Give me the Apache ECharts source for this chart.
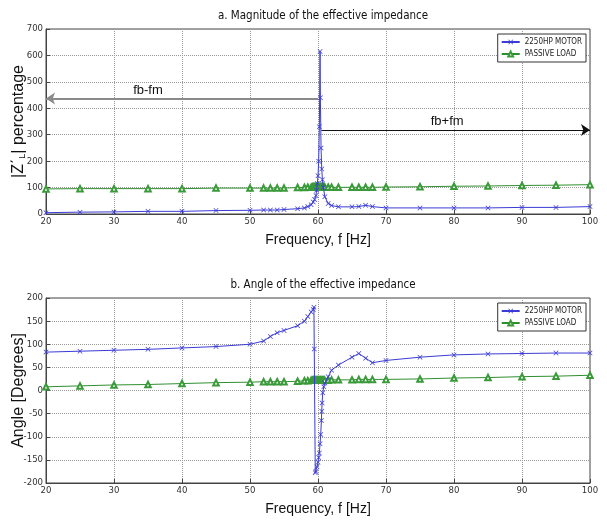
<!DOCTYPE html>
<html><head><meta charset="utf-8">
<script src="https://cdn.jsdelivr.net/npm/echarts@6/dist/echarts.min.js"></script>
<style>html,body{margin:0;padding:0;background:#fff}#c{width:607px;height:520px}</style>
</head><body><div id="c"></div>
<script>
// ---- data ----
const xTicks = [20,30,40,50,60,70,80,90,100];
const magTicks = [0,100,200,300,400,500,600,700];
const angTicks = [-200,-150,-100,-50,0,50,100,150,200];

const motorMagX = [20,25,30,35,40,45,50,52,53,54,55,57,58,58.5,59,59.3,59.5,59.7,59.8,59.9,60,60.1,60.2,60.3,60.35,60.45,60.55,60.65,60.8,61,61.5,62,63,65,66,67,68,70,75,80,85,90,95,100];
const motorMag  = [5,7,8,10,10,13,14,15,15,15,17,20,23,28,35,45,55,70,90,115,145,200,330,615,440,250,170,130,100,65,40,32,27,27,28,33,28,23,23,23,23,25,25,28];

const motorAngX = [20,25,30,35,40,45,50,52,53,54,55,57,58,58.5,59,59.3,59.4,59.45,59.6,59.7,59.85,60,60.1,60.2,60.3,60.4,60.5,60.55,60.6,60.7,60.85,61,61.5,62,63,65,66,67,68,70,75,80,85,90,95,100];
const motorAng  = [83,85,87,89,92,95,100,107,117,125,130,140,150,160,170,175,180,90,-178,-175,-165,-155,-145,-135,-115,-95,-65,-45,-27,-5,8,16,30,44,55,72,80,70,60,65,72,77,79,80,81,81];

const passiveX = [20,25,30,35,40,45,50,52,53,54,55,57,58,58.5,59,59.2,59.3,59.4,59.5,59.6,59.7,59.8,59.9,60,60.1,60.2,60.3,60.4,60.5,60.6,60.7,60.8,60.9,61,61.5,62,63,65,66,67,68,70,75,80,85,90,95,100];
const passiveMag = [95,96,96,96,96,98,98,98,98,98,98,100,100,101,101,102,102,102,102,102,102,102,102,102,102,102,102,102,102,102,102,102,102,101,101,101,101,101,101,101,101,102,103,105,106,108,109,111];
const passiveAng = [8,10,12,13,15,17,18,19,19,19,19,20,21,21,22,22,22,22,22,22,22,22,22,22,22,22,22,22,22,22,22,22,22,22,22,23,23,23,24,24,24,24,25,27,28,30,31,33];

const seriesNames = ['2250HP MOTOR','PASSIVE LOAD'];
const titles = ['a. Magnitude of the effective impedance','b. Angle of the effective impedance'];
const xName = 'Frequency, f [Hz]';
const arrowLeft = {label:'fb-fm', from:60, to:20, y:437, labelAt:[35,468]};
const arrowRight = {label:'fb+fm', from:60.5, to:100, y:318, labelAt:[79,350]};

// ---- chart ----
const pair = (xs, ys) => xs.map((x, i) => [x, ys[i]]);
const BLUE = '#3b3bd6', GREEN = '#2f8f2f';
const crossPath = 'path://M0,1L1,0L5,4L9,0L10,1L6,5L10,9L9,10L5,6L1,10L0,9L4,5Z';
const NARROW = '"Liberation Sans Narrow","DejaVu Sans Condensed",sans-serif';
const tickFont = {fontFamily:NARROW, fontSize:9.5, color:'#333'};
const nameFont = {fontFamily:'"Liberation Sans",Arial,sans-serif', fontSize:14, color:'#111'};

function xAxisCfg(gi){
  return {type:'value', gridIndex:gi, min:20, max:100, interval:10,
    name:xName, nameLocation:'middle', nameGap:19, nameMoveOverlap:false, nameTextStyle:nameFont,
    axisLine:{onZero:false, lineStyle:{color:'#444'}}, axisTick:{inside:true, length:4, lineStyle:{color:'#444'}},
    axisLabel:Object.assign({margin:3}, tickFont),
    splitLine:{show:true, lineStyle:{type:'dotted', color:'#999'}}};
}
function yAxisCfg(gi, min, max, interval, name, rich){
  return {type:'value', gridIndex:gi, min, max, interval,
    name, nameLocation:'middle', nameGap:19, nameMoveOverlap:false,
    nameTextStyle:{fontSize:16, fontFamily:'"Liberation Sans",Arial,sans-serif', color:'#111', rich},
    axisLine:{onZero:false, lineStyle:{color:'#444'}}, axisTick:{inside:true, length:4, lineStyle:{color:'#444'}},
    axisLabel:Object.assign({margin:3}, tickFont),
    splitLine:{show:true, lineStyle:{type:'dotted', color:'#999'}}};
}
function motor(gi, data, extra){
  return Object.assign({name:seriesNames[0], type:'line', xAxisIndex:gi, yAxisIndex:gi, data,
    symbol:crossPath, symbolSize:5, showAllSymbol:true,
    lineStyle:{color:BLUE, width:1}, itemStyle:{color:BLUE}, z:3, animation:false}, extra||{});
}
function passive(gi, data, extra){
  return Object.assign({name:seriesNames[1], type:'line', xAxisIndex:gi, yAxisIndex:gi, data,
    symbol:'emptyTriangle', symbolSize:5.5, showAllSymbol:true,
    lineStyle:{color:GREEN, width:1}, itemStyle:{color:'#3a9a3a', borderWidth:0.8}, z:2, animation:false}, extra||{});
}
function legendCfg(top){
  return {orient:'vertical', right:21, top, padding:[4,4,4,3], itemGap:4,
    itemWidth:18, itemHeight:6, data:seriesNames, borderColor:'#333', borderWidth:1, backgroundColor:'#fff',
    textStyle:{fontFamily:NARROW, fontSize:8, color:'#222'},
    selectedMode:false};
}
const annFont = {fontFamily:'"Liberation Sans",Arial,sans-serif', fontSize:13, color:'#111'};
function arrowMark(a, color, width){
  return {
    markLine:{silent:true, animation:false, symbol:['none','arrow'], symbolSize:9, z:5,
      lineStyle:{color, width, type:'solid'}, label:{show:false},
      data:[[{coord:[a.from, a.y]}, {coord:[a.to, a.y]}]]},
    markPoint:{silent:true, animation:false, symbol:'circle', symbolSize:0,
      label:Object.assign({show:true, formatter:'{b}'}, annFont),
      data:[{name:a.label, coord:a.labelAt}]}
  };
}
const titleStyle = {fontFamily:NARROW, fontSize:11.5, fontWeight:'normal', color:'#111'};

const option = {
  backgroundColor:'#fff',
  animation:false,
  title:[
    {text:titles[0], left:318, textAlign:'center', top:5, textStyle:titleStyle},
    {text:titles[1], left:318, textAlign:'center', top:274, textStyle:titleStyle}
  ],
  grid:[
    {left:46, right:17, top:29, height:185, outerBoundsMode:'none', containLabel:false, show:true, borderColor:'#444', borderWidth:1, backgroundColor:'#fff'},
    {left:46, right:17, top:298, height:185, outerBoundsMode:'none', containLabel:false, show:true, borderColor:'#444', borderWidth:1, backgroundColor:'#fff'}
  ],
  legend:[legendCfg(34), legendCfg(303)],
  xAxis:[xAxisCfg(0), xAxisCfg(1)],
  yAxis:[
    yAxisCfg(0, 0, 700, 100, "|Z΄{s|L}| percentage", {s:{fontSize:9, verticalAlign:'bottom', padding:[6,0,0,0], fontFamily:'"Liberation Sans",Arial,sans-serif', color:'#111'}}),
    yAxisCfg(1, -200, 200, 50, 'Angle [Degrees]', {})
  ],
  series:[
    motor(0, pair(motorMagX, motorMag), arrowMark(arrowLeft, '#8a8a8a', 2)),
    passive(0, pair(passiveX, passiveMag), arrowMark(arrowRight, '#111', 1)),
    motor(1, pair(motorAngX, motorAng)),
    passive(1, pair(passiveX, passiveAng))
  ]
};
const chart = echarts.init(document.getElementById('c'), null, {renderer:'canvas'});
chart.setOption(option);
</script>
</body></html>
